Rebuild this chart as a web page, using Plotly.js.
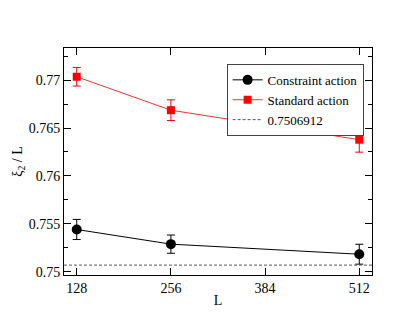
<!DOCTYPE html>
<html>
<head>
<meta charset="utf-8">
<script src="https://cdn.plot.ly/plotly-3.0.1.min.js"></script>
<style>
  html, body { margin: 0; padding: 0; background: #fff; }
  #plot { width: 419px; height: 324px; }
  #plot text { font-family: "Liberation Serif", "Times New Roman", serif !important; }
</style>
</head>
<body>
<div id="plot"></div>
<script>
// lattice sizes
let sizes = [128, 256, 512];

// constraint action
let constraintVals = [0.75441, 0.75288, 0.75183];
let constraintErr = [0.00105, 0.00095, 0.00104];

// standard action
let standardVals = [0.77035, 0.76686, 0.76378];
let standardErr = [0.00097, 0.00108, 0.0013];

// reference value
let refValue = 0.7506912;
let xRange = [110.7, 529.3];

let xTicks = [128, 256, 384, 512];
let yTicks = [0.75, 0.755, 0.76, 0.765, 0.77];
let yTickText = ["0.75", "0.755", "0.76", "0.765", "0.77"];

let trace1 = {
    x: sizes,
    y: constraintVals,
    error_y: {type: "data", array: constraintErr, color: "black", thickness: 1, width: 4},
    mode: "lines+markers",
    type: "scatter",
    name: "Constraint action",
    line: {color: "black", width: 1},
    marker: {color: "black", symbol: "circle", size: 10}
};

let trace2 = {
    x: sizes,
    y: standardVals,
    error_y: {type: "data", array: standardErr, color: "#ff0000", thickness: 1, width: 4},
    mode: "lines+markers",
    type: "scatter",
    name: "Standard action",
    line: {color: "#ff3030", width: 1},
    marker: {color: "#ff0000", symbol: "square", size: 8}
};

let trace3 = {
    x: xRange,
    y: [refValue, refValue],
    mode: "lines",
    type: "scatter",
    name: "0.7506912",
    line: {color: "#555", width: 1, dash: "3px,2px"}
};

let data = [trace1, trace2, trace3];

let serif = "Liberation Serif";
let font = {family: serif, size: 14, color: "black"};

let layout = {
    width: 419,
    height: 324,
    margin: {l: 64, r: 47, t: 48, b: 49},
    paper_bgcolor: "white",
    plot_bgcolor: "white",
    font: font,
    showlegend: true,
    legend: {
        x: 0.528, y: 0.93, xanchor: "left", yanchor: "top",
        bordercolor: "#444", borderwidth: 1,
        font: {family: serif, size: 13, color: "black"},
        itemwidth: 30, tracegroupgap: 0,
        bgcolor: "white"
    },
    xaxis: {
        range: xRange,
        tickvals: xTicks,
        ticks: "inside", ticklen: 7, tickcolor: "black",
        tickfont: {family: serif, size: 14},
        showline: true, linecolor: "black", linewidth: 1, mirror: "ticks",
        showgrid: false, zeroline: false,
        title: {text: "L", font: {family: serif, size: 14}, standoff: 0}
    },
    yaxis: {
        range: [0.74966, 0.77335],
        tickvals: yTicks,
        ticktext: yTickText,
        ticks: "inside", ticklen: 7, tickcolor: "black",
        tickfont: {family: serif, size: 14},
        showline: true, linecolor: "black", linewidth: 1, mirror: "ticks",
        showgrid: false, zeroline: false,
        minor: {dtick: 0.0025, ticks: "inside", ticklen: 4, tickcolor: "black", showgrid: false},
        title: {text: "ξ<sub>2</sub> / L", font: {family: serif, size: 14}, standoff: 2}
    }
};

Plotly.newPlot("plot", data, layout, {displayModeBar: false, staticPlot: true});
</script>
</body>
</html>
